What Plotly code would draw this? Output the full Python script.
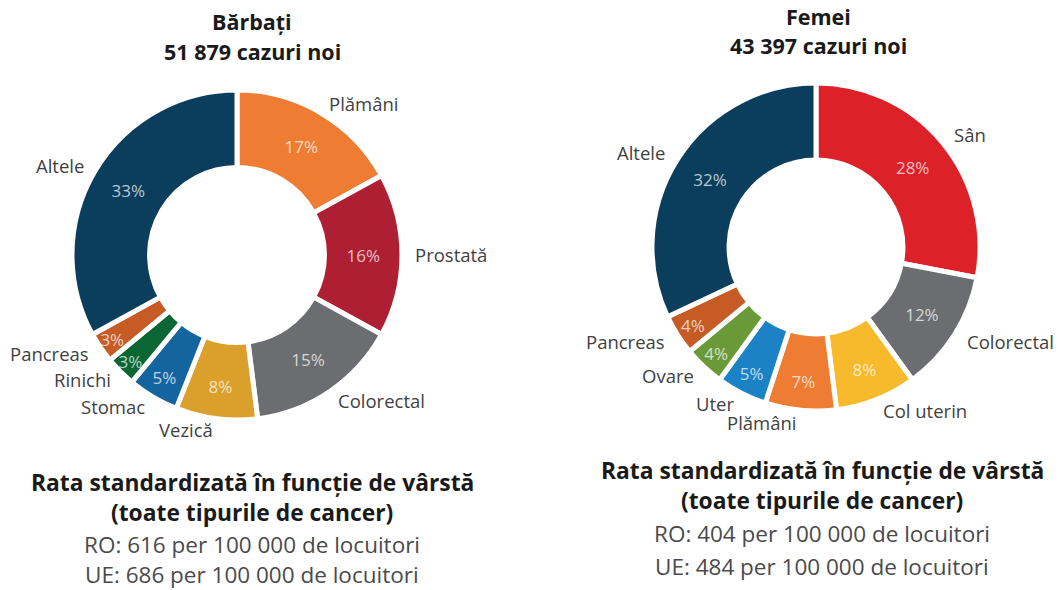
import math
import plotly.graph_objects as go

W, H = 1058, 590

# ---- data ----
men_labels = ["Plămâni", "Prostată", "Colorectal", "Vezică", "Stomac", "Rinichi", "Pancreas", "Altele"]
men_values = [17, 16, 15, 8, 5, 3, 3, 33]
men_colors = ["#EE7D33", "#AE1F33", "#6C6D70", "#DBA02C", "#14649F", "#0A6733", "#C65B25", "#0B3D5C"]

women_labels = ["Sân", "Colorectal", "Col uterin", "Plămâni", "Uter", "Ovare", "Pancreas", "Altele"]
women_values = [28, 12, 8, 7, 5, 4, 4, 32]
women_colors = ["#DD2129", "#6C6D70", "#F6BA2C", "#EE7D33", "#1B82C5", "#6A9A37", "#C65B25", "#0B3D5C"]

men_title = ["Bărbați", "51 879 cazuri noi"]
women_title = ["Femei", "43 397 cazuri noi"]
rate_heading = ["Rata standardizată în funcție de vârstă", "(toate tipurile de cancer)"]
men_rates = ["RO: 616 per 100 000 de locuitori", "UE: 686 per 100 000 de locuitori"]
women_rates = ["RO: 404 per 100 000 de locuitori", "UE: 484 per 100 000 de locuitori"]

FONT = "Open Sans"
TXT = "#3f3f3f"


def px(x, y):
    return x / W, 1 - y / H


fig = go.Figure()

pies = [
    (men_labels, men_values, men_colors, 237, 255, 165),
    (women_labels, women_values, women_colors, 816, 247, 164),
]

annotations = []
for labels, values, colors, cx, cy, r in pies:
    x0, y1 = px(cx - r, cy - r)
    x1, y0 = px(cx + r, cy + r)
    fig.add_trace(go.Pie(
        labels=labels, values=values, sort=False, direction="clockwise", rotation=0,
        hole=0.53,
        marker=dict(colors=colors, line=dict(color="white", width=5)),
        domain=dict(x=[x0, x1], y=[y0, y1]),
        textinfo="percent", texttemplate="%{value}%",
        textposition="inside", insidetextorientation="horizontal",
        insidetextfont=dict(family=FONT, size=17, color="rgba(255,255,255,0.72)"),
        showlegend=False, hoverinfo="label+value",
    ))
    # outside category labels placed radially from the slice mid-angles
    total = sum(values)
    cum = 0
    R = 176
    for lab, v in zip(labels, values):
        mid = (cum + v / 2) / total * 2 * math.pi
        cum += v
        s, c = math.sin(mid), math.cos(mid)
        lx, ly = cx + R * s, cy - R * c
        xa = "left" if s > 0.05 else ("right" if s < -0.05 else "center")
        ax, ay = px(lx, ly)
        annotations.append(dict(x=ax, y=ay, xref="paper", yref="paper", text=lab,
                                showarrow=False, xanchor=xa, yanchor="middle",
                                font=dict(family=FONT, size=18.5, color=TXT)))


def add_text(text, x, y, size, bold=False, color=TXT):
    ax, ay = px(x, y)
    annotations.append(dict(x=ax, y=ay, xref="paper", yref="paper",
                            text=f"<b>{text}</b>" if bold else text,
                            showarrow=False, xanchor="center", yanchor="middle",
                            font=dict(family=FONT, size=size, color=color)))


DARK = "#1a1a1a"
GREY = "#4a4a4a"
add_text(men_title[0], 252, 22, 21.5, True, DARK)
add_text(men_title[1], 252, 52, 21.5, True, DARK)
add_text(women_title[0], 818, 16, 21.5, True, DARK)
add_text(women_title[1], 818, 45, 21.5, True, DARK)

add_text(rate_heading[0], 252, 482, 22.8, True, DARK)
add_text(rate_heading[1], 252, 512, 22.8, True, DARK)
add_text(men_rates[0], 252, 544, 22.5, False, GREY)
add_text(men_rates[1], 252, 574, 22.5, False, GREY)

add_text(rate_heading[0], 822, 470, 22.8, True, DARK)
add_text(rate_heading[1], 822, 500, 22.8, True, DARK)
add_text(women_rates[0], 822, 533, 22.5, False, GREY)
add_text(women_rates[1], 822, 566, 22.5, False, GREY)

fig.update_layout(
    width=W, height=H, autosize=False,
    margin=dict(l=0, r=0, t=0, b=0),
    paper_bgcolor="white", plot_bgcolor="white",
    uniformtext=dict(mode="show", minsize=17),
    annotations=annotations,
    font=dict(family=FONT),
)

fig.write_html("out.html", config={"displayModeBar": False},
               post_script="document.body.style.margin='0';document.body.style.overflow='hidden';")
